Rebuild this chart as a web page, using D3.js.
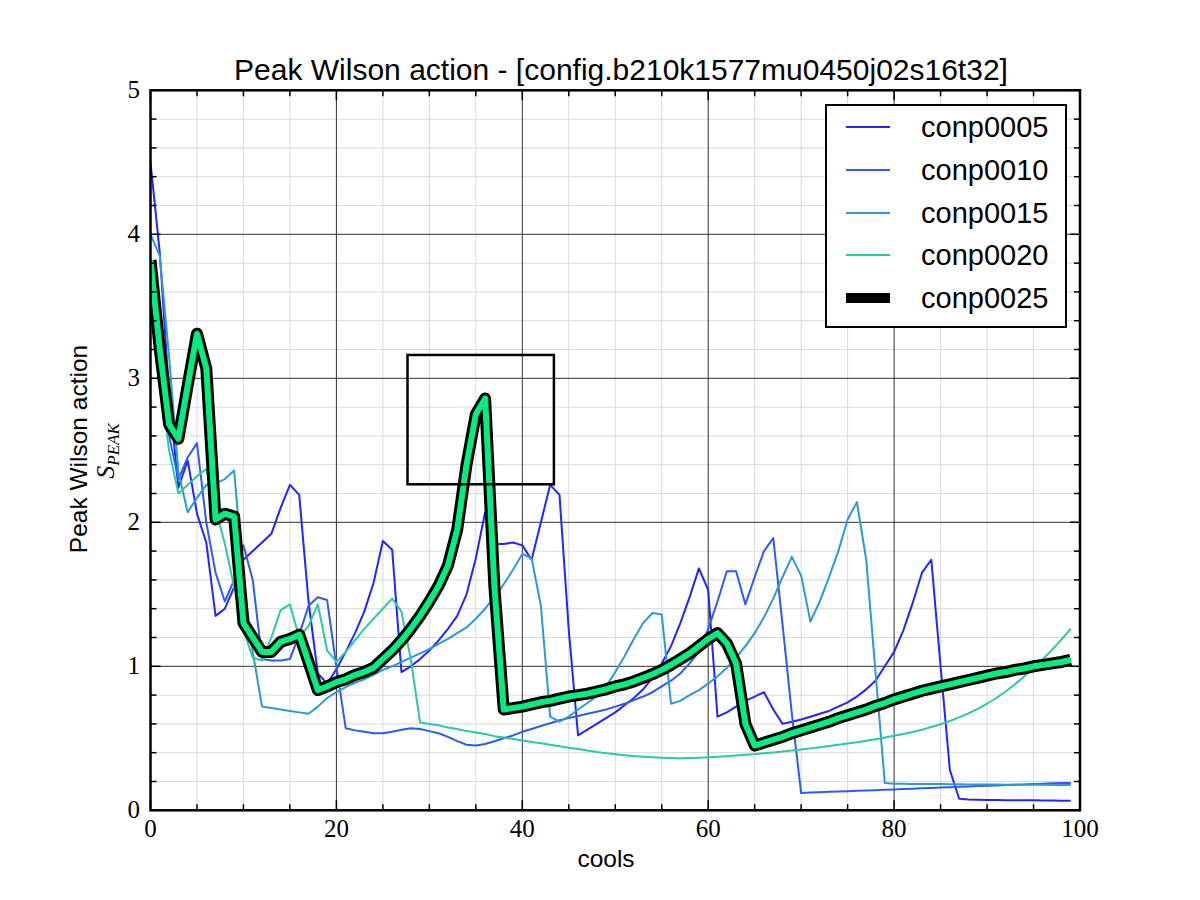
<!DOCTYPE html>
<html><head><meta charset="utf-8">
<script src="https://cdn.jsdelivr.net/npm/d3@7"></script>
<style>body{margin:0;background:#fff}</style>
</head><body>
<svg id="c" width="1200" height="900"></svg>
<script>
const cools = d3.range(0, 100);
const seriesNames = ["conp0005","conp0010","conp0015","conp0020","conp0025"];
const conp0005 = [4.50,3.87,2.90,2.24,2.43,2.06,1.86,1.35,1.40,1.55,
 1.74,1.80,1.86,1.92,2.10,2.26,2.19,1.45,0.95,0.88,
 0.98,1.10,1.23,1.38,1.58,1.87,1.81,0.96,1.00,1.05,
 1.11,1.18,1.26,1.35,1.50,1.75,2.07,1.85,1.85,1.86,
 1.84,1.74,2.00,2.26,2.19,1.25,0.52,0.56,0.60,0.64,
 0.68,0.73,0.78,0.84,0.92,1.02,1.14,1.30,1.48,1.68,
 1.53,0.65,0.68,0.72,0.76,0.79,0.82,0.70,0.60,0.615,
 0.63,0.65,0.67,0.69,0.72,0.75,0.79,0.84,0.90,1.00,
 1.10,1.25,1.44,1.65,1.74,1.00,0.28,0.08,0.075,0.073,
 0.072,0.071,0.070,0.070,0.069,0.069,0.068,0.068,0.067,0.067];
const conp0010 = [3.70,3.20,2.60,2.30,2.45,2.55,2.00,1.65,1.45,1.60,
 1.84,1.60,1.05,1.04,1.04,1.05,1.22,1.42,1.48,1.46,
 1.00,0.57,0.555,0.545,0.535,0.535,0.545,0.56,0.57,0.565,
 0.55,0.535,0.51,0.48,0.455,0.45,0.46,0.48,0.50,0.52,
 0.545,0.565,0.585,0.605,0.625,0.64,0.655,0.67,0.685,0.70,
 0.72,0.74,0.765,0.79,0.82,0.86,0.90,0.95,1.02,1.10,
 1.26,1.45,1.66,1.66,1.43,1.62,1.80,1.89,1.29,0.67,
 0.12,0.123,0.125,0.128,0.13,0.133,0.135,0.138,0.14,0.143,
 0.145,0.148,0.15,0.153,0.155,0.158,0.16,0.163,0.165,0.168,
 0.17,0.173,0.175,0.178,0.18,0.183,0.185,0.187,0.189,0.19];
const conp0015 = [4.00,3.85,3.15,2.35,2.07,2.17,2.26,2.27,2.30,2.36,
 1.60,1.10,0.72,0.71,0.70,0.69,0.68,0.67,0.72,0.78,
 0.82,0.855,0.885,0.91,0.94,0.975,1.00,1.03,1.06,1.09,
 1.12,1.155,1.19,1.23,1.27,1.33,1.40,1.48,1.57,1.67,
 1.78,1.75,1.42,0.65,0.615,0.65,0.70,0.745,0.79,0.86,
 0.96,1.07,1.19,1.30,1.37,1.36,0.74,0.76,0.80,0.835,
 0.88,0.93,0.99,1.06,1.14,1.23,1.34,1.47,1.62,1.76,
 1.63,1.31,1.45,1.62,1.80,2.02,2.14,1.74,0.96,0.19,
 0.185,0.184,0.183,0.183,0.182,0.182,0.181,0.181,0.18,0.18,
 0.179,0.179,0.178,0.178,0.177,0.177,0.177,0.176,0.176,0.176];
const conp0020 = [3.60,3.00,2.50,2.20,2.26,2.32,2.37,2.10,1.85,1.55,
 1.25,1.06,1.04,1.20,1.39,1.43,1.20,1.28,1.43,1.11,
 1.03,1.10,1.18,1.26,1.33,1.40,1.47,1.38,1.05,0.61,
 0.60,0.59,0.575,0.565,0.55,0.54,0.53,0.515,0.505,0.495,
 0.485,0.475,0.465,0.455,0.445,0.435,0.425,0.415,0.405,0.397,
 0.39,0.383,0.377,0.372,0.368,0.365,0.363,0.362,0.363,0.365,
 0.368,0.372,0.376,0.38,0.385,0.39,0.396,0.402,0.408,0.415,
 0.422,0.43,0.438,0.446,0.455,0.464,0.473,0.483,0.494,0.505,
 0.517,0.53,0.544,0.56,0.578,0.598,0.62,0.645,0.673,0.705,
 0.74,0.78,0.825,0.875,0.93,0.99,1.05,1.115,1.185,1.26];
const conp0025 = [3.82,3.20,2.68,2.58,2.95,3.31,3.07,2.02,2.06,2.04,
 1.30,1.20,1.10,1.10,1.17,1.19,1.22,1.03,0.835,0.86,
 0.89,0.91,0.94,0.96,0.99,1.05,1.11,1.18,1.26,1.35,
 1.45,1.56,1.70,1.95,2.40,2.75,2.86,1.55,0.70,0.71,
 0.72,0.735,0.75,0.76,0.775,0.79,0.80,0.81,0.825,0.84,
 0.86,0.875,0.895,0.92,0.945,0.975,1.01,1.05,1.09,1.14,
 1.19,1.23,1.16,1.02,0.60,0.45,0.47,0.49,0.51,0.535,
 0.555,0.575,0.595,0.615,0.64,0.66,0.68,0.70,0.725,0.745,
 0.77,0.79,0.81,0.83,0.845,0.86,0.875,0.89,0.905,0.92,
 0.935,0.95,0.96,0.975,0.985,1.00,1.01,1.02,1.03,1.044];
const xTicks = [0,20,40,60,80,100];
const yTicks = [0,1,2,3,4,5];
const highlightBox = {x0: 27.65, x1: 43.4, y0: 2.264, y1: 3.162};
const title = "Peak Wilson action - [config.b210k1577mu0450j02s16t32]";

const colors = ["#2424ff","#2c5cf2","#2c9ad4","#2cc8a8","#000000"];
const seriesData = [conp0005,conp0010,conp0015,conp0020,conp0025];

const L=150.5, R=1080, T=90.3, B=810.3;
const svg = d3.select("#c");
const x = d3.scaleLinear().domain([0,100]).range([L,R]);
const y = d3.scaleLinear().domain([0,5]).range([B,T]);

// grid
const g = svg.append("g");
const minorX = d3.range(0,101,5).filter(v=>v%20!==0);
const minorY = d3.range(0,26).map(v=>v/5).filter(v=>Math.abs(v-Math.round(v))>1e-6);
g.selectAll(".mx").data(minorX).join("line").attr("x1",d=>x(d)).attr("x2",d=>x(d)).attr("y1",T).attr("y2",B).attr("stroke","#d9d9d9").attr("stroke-width",1);
g.selectAll(".my").data(minorY).join("line").attr("y1",d=>y(d)).attr("y2",d=>y(d)).attr("x1",L).attr("x2",R).attr("stroke","#d9d9d9").attr("stroke-width",1);
g.selectAll(".Mx").data(xTicks).join("line").attr("x1",d=>x(d)).attr("x2",d=>x(d)).attr("y1",T).attr("y2",B).attr("stroke","#333").attr("stroke-width",1);
g.selectAll(".My").data(yTicks).join("line").attr("y1",d=>y(d)).attr("y2",d=>y(d)).attr("x1",L).attr("x2",R).attr("stroke","#333").attr("stroke-width",1);

svg.append("clipPath").attr("id","clip").append("rect").attr("x",L).attr("y",T).attr("width",R-L).attr("height",B-T);
const plot = svg.append("g").attr("clip-path","url(#clip)");
const line = d3.line().x((d,i)=>x(cools[i])).y(d=>y(d));
for(let k=0;k<4;k++){
  plot.append("path").attr("d",line(seriesData[k])).attr("fill","none").attr("stroke",colors[k]).attr("stroke-width",2).attr("stroke-linejoin","round");
}
plot.append("path").attr("d",line(conp0025)).attr("fill","none").attr("stroke","#000").attr("stroke-width",12).attr("stroke-linejoin","round");
plot.append("path").attr("d",line(conp0025)).attr("fill","none").attr("stroke","#00ee80").attr("stroke-width",6).attr("stroke-linejoin","round");

// highlight box
svg.append("rect").attr("x",x(highlightBox.x0)).attr("y",y(highlightBox.y1))
  .attr("width",x(highlightBox.x1)-x(highlightBox.x0)).attr("height",y(highlightBox.y0)-y(highlightBox.y1))
  .attr("fill","none").attr("stroke","#000").attr("stroke-width",2.5);

// frame
svg.append("rect").attr("x",L).attr("y",T).attr("width",R-L).attr("height",B-T).attr("fill","none").attr("stroke","#000").attr("stroke-width",2.5);

// ticks (inside, all sides)
const tk = svg.append("g").attr("stroke","#000").attr("stroke-width",1.5);
const allMX = d3.range(0,101,5), allMY = d3.range(0,26).map(v=>v/5);
allMX.forEach(v=>{const len = v%20===0?10:6;
  tk.append("line").attr("x1",x(v)).attr("x2",x(v)).attr("y1",B).attr("y2",B-len);
  tk.append("line").attr("x1",x(v)).attr("x2",x(v)).attr("y1",T).attr("y2",T+len);});
allMY.forEach(v=>{const len = Math.abs(v-Math.round(v))<1e-6?10:6;
  tk.append("line").attr("y1",y(v)).attr("y2",y(v)).attr("x1",L).attr("x2",L+len);
  tk.append("line").attr("y1",y(v)).attr("y2",y(v)).attr("x1",R).attr("x2",R-len);});

// tick labels
svg.selectAll(".xl").data(xTicks).join("text").attr("x",d=>x(d)).attr("y",837).attr("text-anchor","middle")
  .attr("font-family","Liberation Serif, DejaVu Serif, serif").attr("font-size",25).text(d=>d);
svg.selectAll(".yl").data(yTicks).join("text").attr("x",140).attr("y",d=>y(d)+8).attr("text-anchor","end")
  .attr("font-family","Liberation Serif, DejaVu Serif, serif").attr("font-size",25).text(d=>d);

// titles
const sans = "Liberation Sans, Arial, Helvetica, sans-serif";
svg.append("text").attr("x",621).attr("y",80).attr("text-anchor","middle").attr("font-family",sans).attr("font-size",30).text(title);
svg.append("text").attr("x",606).attr("y",867).attr("text-anchor","middle").attr("font-family",sans).attr("font-size",24.5).text("cools");
svg.append("text").attr("transform","translate(87,449) rotate(-90)").attr("text-anchor","middle").attr("font-family",sans).attr("font-size",24.5).text("Peak Wilson action");
const sp = svg.append("text").attr("transform","translate(114,451) rotate(-90)").attr("text-anchor","middle").attr("font-family","Liberation Serif, DejaVu Serif, serif").attr("font-style","italic").attr("font-size",26);
sp.append("tspan").text("S");
sp.append("tspan").attr("font-size",17).attr("dy",5).text("PEAK");

// legend
const lg = svg.append("g");
lg.append("rect").attr("x",826).attr("y",105).attr("width",240).attr("height",222).attr("fill","#fff").attr("stroke","#000").attr("stroke-width",2);
const rowsY = [127,170,213,255,298];
seriesNames.forEach((n,i)=>{
  lg.append("line").attr("x1",846).attr("x2",890).attr("y1",rowsY[i]).attr("y2",rowsY[i]).attr("stroke",colors[i]).attr("stroke-width",i===4?10:2.2);
  lg.append("text").attr("x",921).attr("y",rowsY[i]+10).attr("font-family",sans).attr("font-size",29).text(n);
});
</script>
</body></html>
